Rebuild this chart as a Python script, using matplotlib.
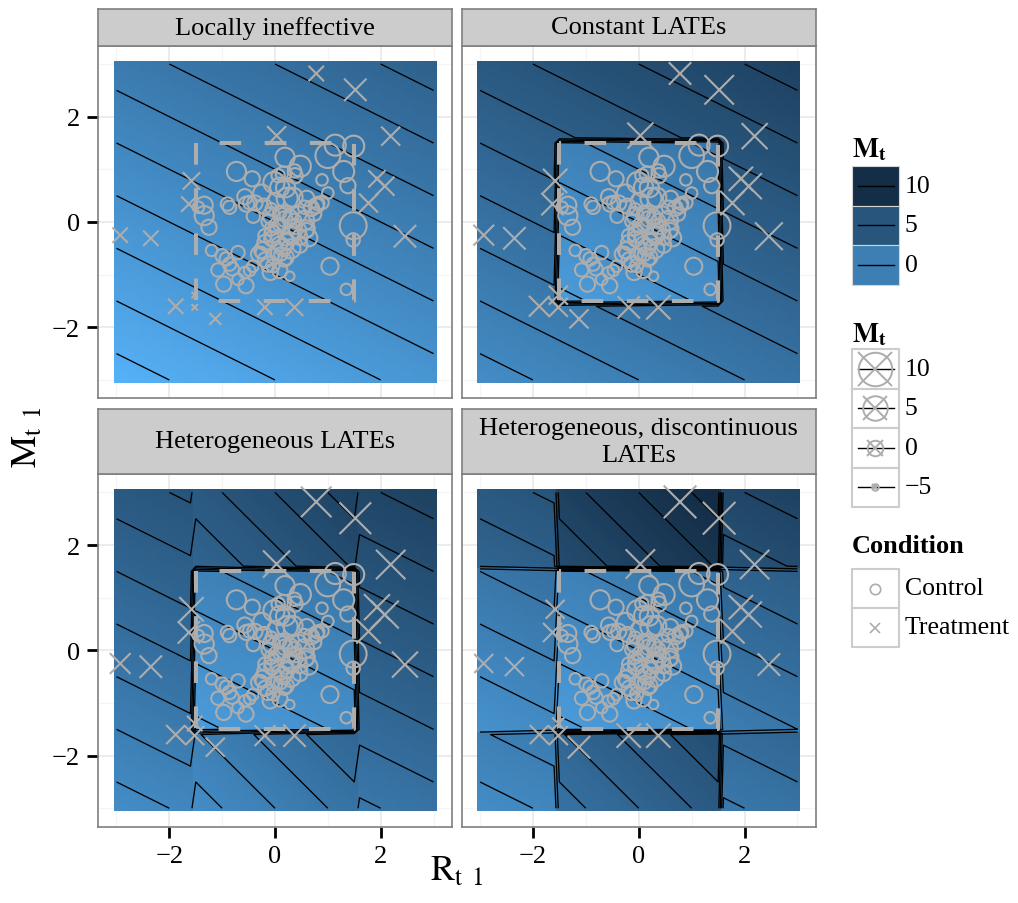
import numpy as np
import matplotlib
matplotlib.use('Agg')
import matplotlib.pyplot as plt
from matplotlib.colors import ListedColormap, Normalize, to_rgb
from matplotlib.patches import Rectangle

plt.rcParams['font.family'] = ['Liberation Serif', 'DejaVu Serif']
plt.rcParams['mathtext.fontset'] = 'stix'
plt.rcParams['lines.scale_dashes'] = False
plt.rcParams['contour.negative_linestyle'] = 'solid'

W, H = 1018, 904

panel_titles = ['Locally ineffective', 'Constant LATEs',
                'Heterogeneous LATEs', 'Heterogeneous, discontinuous\nLATEs']

# outcome surface  Mt = intercept + slope_r*R + slope_m*M + effect(region)
base_intercept = -1.0
base_slope_r = 0.5
base_slope_m = 1.0
cutoff = 1.5
# treatment effects per panel
effect_lr_band = [0, 4, 4, 2]      # |R| > cutoff, |M| <= cutoff
effect_tb_band = [0, 4, 4, 7]      # |M| > cutoff, |R| <= cutoff (at R = 0)
effect_tb_slope = [0, 0, 0.5, 0.5]  # change of that effect with R
effect_corner = [0, 4, 4, 4]       # both outside

# control units (inside the square)
ctrl_r = [1.14, 1.49, 1.00, 0.19, 0.48, -0.73, -0.43, -0.02, 0.16, 0.38, 1.30, 0.89, 1.38, 1.00,
          0.23, -0.57, -0.38, -0.90, -1.34, -1.34, -1.25, -0.21, 0.01, -0.07, 0.15, 0.29, 0.45,
          0.69, 0.81, 0.89, 0.56, -0.41, -0.13, 0.09, 0.37, 0.59, 0.64, 1.48, 1.48, -0.19, -0.06,
          0.09, 0.23, 0.30, 0.47, -1.20, -1.00, -0.92, -0.70, -0.31, -0.18, -0.01, 0.11, 0.18,
          -0.42, -1.08, -0.81, -0.57, -0.09, 0.09, 0.28, -0.97, -0.70, -0.55, 1.04, 1.35, 0.20,
          0.75, 0.31, 0.43, -0.07, -0.19, 0.09, -0.07, -0.26, -0.04, -1.45, -0.86, -0.48, 0.78,
          0.18, 0.37, 0.03, 0.21, 0.56, 0.37, 0.06,
          -0.86, -0.48, -0.23, -0.13, -0.04, 0.28, 0.47, 0.59, 0.15, 0.21, 0.09, -0.54, 0.34,
          0.60, -0.25]
ctrl_m = [1.46, 1.44, 1.26, 1.23, 1.06, 0.96, 0.82, 0.75, 0.91, 0.88, 0.96, 0.80, 0.69, 0.55,
          0.45, 0.48, 0.36, 0.34, 0.32, 0.12, -0.10, 0.30, 0.39, 0.12, 0.17, 0.08, 0.15,
          0.26, 0.35, 0.37, 0.03, 0.11, 0.01, -0.05, -0.08, -0.16, -0.30, -0.07, -0.34, -0.39, -0.32,
          -0.42, -0.37, -0.51, -0.44, -0.54, -0.64, -0.70, -0.58, -0.61, -0.72, -0.65, -0.61, -0.72,
          -0.84, -0.91, -0.89, -0.96, -0.96, -0.92, -1.03, -1.18, -1.09, -1.21, -0.84, -1.28, 0.65,
          0.15, -0.26, -0.16, -0.13, -0.26, 0.18, 0.25, -0.58, -0.83, 0.28, 0.28, 0.37, 0.31,
          0.06, 0.03, -0.07, -0.32, 0.28, 0.97, 0.88,
          -0.80, -0.92, -0.54, -0.80, -0.23, -0.23, -0.29, -0.13, -0.48, -0.67, 0.66, 0.34, 0.47,
          0.45, 0.55]
ctrl_mt = [1.4, 1.4, 3.2, 0.5, 1.4, 0.5, -1.4, 1.4, -1.4, -1.4, 1.4, -3.2, -1.4, -3.2,
           1.4, -1.4, -1.4, -2.3, -0.5, 0.5, -1.4, -1.4, -0.5, -0.5, -1.4, -1.4, -1.4,
           -1.4, -2.3, -2.3, 0.5, -2.3, -2.3, -2.3, -1.4, -1.4, -0.5, 4.2, -2.3, -1.4, -1.4,
           -1.4, -1.4, 0.5, -1.4, -3.2, -2.3, -2.3, -2.3, -1.4, -1.4, -1.4, -2.3, -2.3,
           -3.2, -2.3, -2.3, -3.2, -1.4, -1.4, -4.2, -1.4, -3.2, -1.4, -0.5, -3.2, 0.5,
           -2.3, -0.5, -0.5, -2.3, -2.3, -2.3, -3.2, -3.2, -2.3, -3.2, -2.3, -2.3, -1.4,
           -1.4, -2.3, -1.4, -2.3, -2.3, -2.3, -2.3,
           -2.3, -3.2, -0.5, -1.4, -0.5, -0.5, -1.4, -0.5, -0.5, -1.4, 0.5, -1.4, 0.5,
           -1.4, -0.5]

# treated units (outside the square); Mt differs by panel
treat_r = [0.78, 1.52, 0.03, 2.19, -1.58, 1.93, 2.08, -1.63, 1.77, -2.93, -2.35, 2.46,
           -1.88, -1.52, -1.52, -1.13, -0.19, 0.37]
treat_m = [2.82, 2.51, 1.64, 1.63, 0.78, 0.82, 0.68, 0.34, 0.36, -0.25, -0.31, -0.27,
           -1.60, -1.39, -1.62, -1.84, -1.62, -1.62]
treat_mt = [
    [-0.5, 3.2, 1.4, 1.4, 0.5, 0.5, 1.4, -0.5, 1.4, -0.5, -0.5, 3.2, -0.5, -5.3, -5.3, -2.3, -0.5, 0.5],
    [3.2, 6.9, 5.1, 5.1, 4.2, 4.2, 5.1, 3.2, 4.2, 2.3, 3.2, 6.0, 2.3, 1.4, 1.4, 1.4, 3.2, 4.2],
    [7.5, 8.1, 5.7, 6.9, 4.2, 5.1, 6.0, 3.2, 4.2, 2.3, 3.2, 5.1, 1.4, -0.5, 1.4, 1.4, 2.3, 3.2],
    [8.6, 8.6, 6.9, 6.9, 1.4, 4.2, 5.1, 1.4, 4.2, 1.4, 1.4, 3.2, 1.4, -2.3, 1.4, 3.2, 4.2, 4.2],
]

fill_breaks = [10, 5, 0]
size_breaks = [10, 5, 0, -5]
conditions = ['Control', 'Treatment']

GREY = '#ADADAD'


# ---- colour scale (ggplot default gradient, interpolated in Lab) ----
def srgb_to_lab(c):
    c = np.asarray(c, float)
    lin = np.where(c <= 0.04045, c / 12.92, ((c + 0.055) / 1.055) ** 2.4)
    m = np.array([[0.4124564, 0.3575761, 0.1804375],
                  [0.2126729, 0.7151522, 0.0721750],
                  [0.0193339, 0.1191920, 0.9503041]])
    xyz = m @ lin / np.array([0.95047, 1.0, 1.08883])
    d = 6 / 29
    f = np.where(xyz > d ** 3, np.cbrt(xyz), xyz / (3 * d * d) + 4 / 29)
    return np.array([116 * f[1] - 16, 500 * (f[0] - f[1]), 200 * (f[1] - f[2])])


def lab_to_srgb(lab):
    L, a, b = lab
    fy = (L + 16) / 116
    fx = fy + a / 500
    fz = fy - b / 200
    d = 6 / 29
    f = np.array([fx, fy, fz])
    xyz = np.where(f > d, f ** 3, 3 * d * d * (f - 4 / 29)) * np.array([0.95047, 1.0, 1.08883])
    mi = np.array([[3.2404542, -1.5371385, -0.4985314],
                   [-0.9692660, 1.8760108, 0.0415560],
                   [0.0556434, -0.2040259, 1.0572252]])
    lin = mi @ xyz
    c = np.where(lin <= 0.0031308, 12.92 * lin, 1.055 * np.clip(lin, 0, None) ** (1 / 2.4) - 0.055)
    return np.clip(c, 0, 1)


lab_lo = srgb_to_lab(to_rgb('#56B1F7'))
lab_hi = srgb_to_lab(to_rgb('#132B43'))
cmap = ListedColormap([lab_to_srgb(lab_lo + t * (lab_hi - lab_lo)) for t in np.linspace(0, 1, 256)])

# ---- surfaces ----
g = np.round(np.arange(-30, 31) / 10, 2)
RR, MM = np.meshgrid(g, g)
out_r = np.abs(RR) > cutoff + 1e-9
out_m = np.abs(MM) > cutoff + 1e-9
surfaces = []
for k in range(4):
    z = base_intercept + base_slope_r * RR + base_slope_m * MM
    eff = np.zeros_like(z)
    eff[out_r & ~out_m] = effect_lr_band[k]
    tb = out_m & ~out_r
    eff[tb] = effect_tb_band[k] + effect_tb_slope[k] * RR[tb]
    eff[out_r & out_m] = effect_corner[k]
    surfaces.append(z + eff)
zmin = min(s.min() for s in surfaces)
zmax = max(s.max() for s in surfaces)
norm = Normalize(zmin, zmax)
levels = np.arange(np.floor(zmin), np.ceil(zmax) + 1)


def size_pt(v, scale=1.15):
    d_px = scale * (17.5 + 1.8 * np.asarray(v, float))
    return np.clip(d_px - 2.0, 2, None) * 0.72


fig = plt.figure(figsize=(W / 100, H / 100), dpi=100)
fig.patch.set_facecolor('white')


def axes_px(x0, y0, x1, y1):
    return fig.add_axes([x0 / W, 1 - y1 / H, (x1 - x0) / W, (y1 - y0) / H])


cols = [(98, 452), (461.5, 816)]
rows = [(46.6, 399.4), (475, 827.7)]
strips = [(10, 46.6), (410, 475)]
lim = 3.35

for k in range(4):
    ri, ci = divmod(k, 2)
    x0, x1 = cols[ci]
    y0, y1 = rows[ri]
    ax = axes_px(x0, y0, x1, y1)
    ax.set_xlim(-lim, lim)
    ax.set_ylim(-lim, lim)
    ax.set_xticks([-2, 0, 2])
    ax.set_yticks([-2, 0, 2])
    ax.set_xticks([-3, -1, 1, 3], minor=True)
    ax.set_yticks([-3, -1, 1, 3], minor=True)
    ax.grid(which='major', color='#EBEBEB', lw=1.3)
    ax.grid(which='minor', color='#F5F5F5', lw=0.9)
    ax.set_axisbelow(True)
    ax.tick_params(which='minor', length=0)
    ax.tick_params(which='major', direction='out', length=8, width=2, color='black',
                   labelsize=19, pad=5)
    if ci == 1:
        ax.tick_params(axis='y', length=0, labelleft=False)
    if ri == 0:
        ax.tick_params(axis='x', length=0, labelbottom=False)
    for sp in ax.spines.values():
        sp.set_color('#7F7F7F')
        sp.set_linewidth(1.2)

    z = surfaces[k]
    ax.imshow(z, extent=(-3.05, 3.05, -3.05, 3.05), origin='lower', cmap=cmap, norm=norm,
              interpolation='nearest', aspect='auto', zorder=1)
    ax.contour(g, g, z, levels=levels, colors='black', linewidths=0.95,
               linestyles='solid', zorder=2)
    ax.plot([-cutoff, -cutoff, cutoff, cutoff, -cutoff], [cutoff, -cutoff, -cutoff, cutoff, cutoff],
            color=GREY, lw=2.9, dashes=(15.6, 16.9), dash_capstyle='butt', zorder=3)
    ax.scatter(ctrl_r, ctrl_m, s=size_pt(ctrl_mt) ** 2, marker='o', facecolors='none',
               edgecolors=GREY, linewidths=1.5, zorder=4)
    ax.scatter(treat_r, treat_m, s=size_pt(treat_mt[k], 1.05) ** 2, marker='x', color=GREY,
               linewidths=1.5, zorder=4)

    sx = axes_px(x0, strips[ri][0], x1, strips[ri][1])
    sx.set_facecolor('#CCCCCC')
    sx.set_xticks([])
    sx.set_yticks([])
    for sp in sx.spines.values():
        sp.set_color('#7F7F7F')
        sp.set_linewidth(1.2)
    sx.text(0.5, 0.5, panel_titles[k], ha='center', va='center', fontsize=19,
            linespacing=1.3, transform=sx.transAxes)

fig.text(457 / W, 1 - 872 / H, r'$\mathrm{R_{t\;\;1}}$', ha='center', va='center', fontsize=26)
fig.text(28 / W, 1 - 437 / H, r'$\mathrm{M_{t\;\;1}}$', ha='center', va='center', fontsize=26,
         rotation=90)

# ---- legends ----
lax = fig.add_axes([0, 0, 1, 1])
lax.set_xlim(0, W)
lax.set_ylim(H, 0)
lax.axis('off')
lax.patch.set_alpha(0)

kx0, kw = 852, 47
kxc = kx0 + kw / 2
lab_x = 905

lax.text(kx0, 150, r'$\mathbf{M_t}$', fontsize=20, ha='left', va='center')
kh = 39.8
for i, v in enumerate(fill_breaks):
    yk = 166.7 + i * kh
    lax.add_patch(Rectangle((kx0, yk), kw, kh, facecolor=cmap(norm(v)), edgecolor='#D5D5D5', lw=0.8))
    lax.plot([kx0 + 6, kx0 + kw - 5], [yk + kh / 2] * 2, color='black', lw=1.0)
    lax.text(lab_x, yk + kh / 2, str(v), fontsize=18.5, ha='left', va='center')

lax.text(kx0, 335, r'$\mathbf{M_t}$', fontsize=20, ha='left', va='center')
kh = 39.5
for i, v in enumerate(size_breaks):
    yk = 350 + i * kh
    lax.add_patch(Rectangle((kx0, yk), kw, kh, facecolor='white', edgecolor='#CCCCCC', lw=1.5))
    lax.plot([kx0 + 6, kx0 + kw - 5], [yk + kh / 2] * 2, color='black', lw=1.0)
    ms = float(size_pt(v, 1.0))
    lax.plot([kxc], [yk + kh / 2], marker='o', ms=ms, mfc='none', mec=GREY, mew=1.4)
    lax.plot([kxc], [yk + kh / 2], marker='x', ms=ms, mec=GREY, mew=1.4)
    lax.text(lab_x, yk + kh / 2, str(v).replace('-', '\u2212'), fontsize=18.5, ha='left', va='center')

lax.text(kx0, 547, 'Condition', fontsize=19, fontweight='bold', ha='left', va='center')
kh = 39
for i, (name, mk) in enumerate(zip(conditions, ['o', 'x'])):
    yk = 570 + i * kh
    lax.add_patch(Rectangle((kx0, yk), kw, kh, facecolor='white', edgecolor='#CCCCCC', lw=1.5))
    if mk == 'o':
        lax.plot([kxc], [yk + kh / 2], marker='o', ms=7.5, mfc='none', mec=GREY, mew=1.2)
    else:
        lax.plot([kxc], [yk + kh / 2], marker='x', ms=7.5, mec=GREY, mew=1.2)
    lax.text(lab_x, yk + kh / 2, name, fontsize=18.5, ha='left', va='center')

fig.savefig('out.png', dpi=100, facecolor='white')
